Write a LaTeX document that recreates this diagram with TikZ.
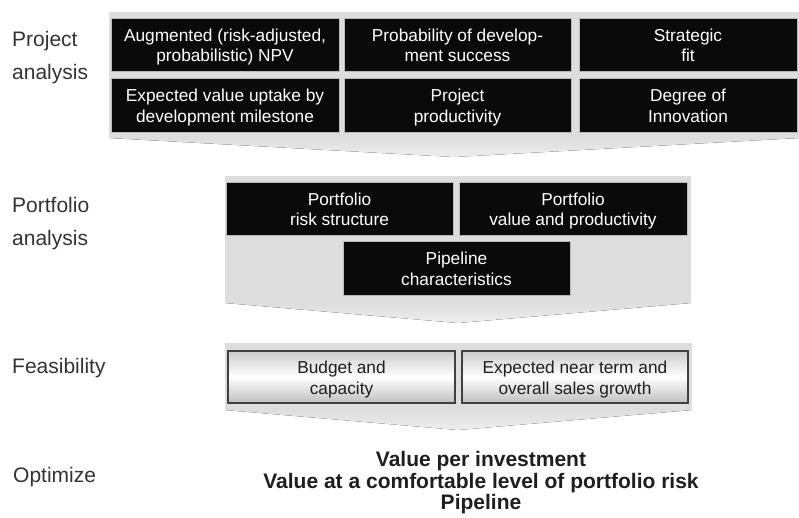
\documentclass[tikz,border=0pt]{standalone}
\usepackage{fontspec}
\setmainfont{Liberation Sans}
\usetikzlibrary{positioning}

\definecolor{bandgray}{HTML}{DDDDDD}
\definecolor{tipgray}{HTML}{EEEEEE}
\definecolor{boxblack}{HTML}{0A0A0A}
\definecolor{labelgray}{HTML}{333333}
\definecolor{textdark}{HTML}{1E1E1E}

\tikzset{
  band/.style={fill=bandgray},
  chevron/.style={top color=bandgray, bottom color=tipgray},
  blackbox/.style={fill=boxblack, draw=gray!55, line width=1pt},
  greybox/.style={top color=gray!40, bottom color=gray!50, middle color=white, draw=black!75, line width=1.5pt},
  boxtext/.style={align=center, inner sep=0pt, yshift=-3.75pt, font=\fontsize{17.3}{20.5}\selectfont,
    execute at begin node=\strut, execute at end node=\strut},
  rowlabel/.style={align=left, inner sep=0pt, text=labelgray, font=\fontsize{21}{33}\selectfont},
}

\begin{document}
\begin{tikzpicture}[x=1pt,y=-1pt]
		\useasboundingbox (0,0) rectangle (799,517);
		% Project analysis
		\fill[band] (109,12) rectangle (799,138);
		\fill[chevron] (109,138) -- (799,138) -- (454,157) -- cycle;
		\draw[blackbox] (111,18) rectangle (339,71) node[pos=.5, boxtext, text=white] (npv) {Augmented (risk-adjusted,\\ probabilistic) NPV};
		\draw[blackbox] (344,18) rectangle (571,71) node[pos=.5, boxtext, text=white] (success) {Probability of develop-\\ ment success};
		\draw[blackbox] (579,18) rectangle (797,71) node[pos=.5, boxtext, text=white] (fit) {Strategic\\ fit};
		\draw[blackbox] (111,78) rectangle (339,132) node[pos=.5, boxtext, text=white] (uptake) {Expected value uptake by\\ development milestone};
		\draw[blackbox] (344,78) rectangle (571,132) node[pos=.5, boxtext, text=white] (prod) {Project\\ productivity};
		\draw[blackbox] (579,78) rectangle (797,132) node[pos=.5, boxtext, text=white] (innov) {Degree of\\ Innovation};
		% Portfolio analysis
		\fill[band] (225,176) rectangle (691,303);
		\fill[chevron] (225,303) -- (691,303) -- (458,323) -- cycle;
		\draw[blackbox] (226,182) rectangle (453,235) node[pos=.5, boxtext, text=white] (risk) {Portfolio\\ risk structure};
		\draw[blackbox] (459,182) rectangle (687,235) node[pos=.5, boxtext, text=white] (value) {Portfolio\\ value and productivity};
		\draw[blackbox] (343,241) rectangle (570,295) node[pos=.5, boxtext, text=white] (pipe) {Pipeline\\ characteristics};
		% Feasibility
		\fill[band] (225,343) rectangle (692,410);
		\fill[chevron] (225,410) -- (692,410) -- (458,430) -- cycle;
		\draw[greybox] (228,351) rectangle (455,403) node[pos=.5, boxtext, text=textdark] (budget) {Budget and\\ capacity};
		\draw[greybox] (462,351) rectangle (688,403) node[pos=.5, boxtext, text=textdark] (growth) {Expected near term and\\ overall sales growth};
		% Optimize
		\node[align=center, inner sep=0pt, text=textdark, font=\bfseries\fontsize{21}{21.5}\selectfont] (goals) at (481,483) {Value per investment\\ Value at a comfortable level of portfolio risk\hspace*{26pt}\\ Pipeline};
		% row labels
		\node[rowlabel, anchor=west] (lproj) at (12,58) {Project\\ analysis};
		\node[rowlabel, anchor=west] (lport) at (12,224) {Portfolio\\ analysis};
		\node[rowlabel, anchor=base west] (lfeas) at (12,373) {Feasibility};
		\node[rowlabel, anchor=base west] (lopt) at (13,482) {Optimize};
		\end{tikzpicture}
\end{document}
